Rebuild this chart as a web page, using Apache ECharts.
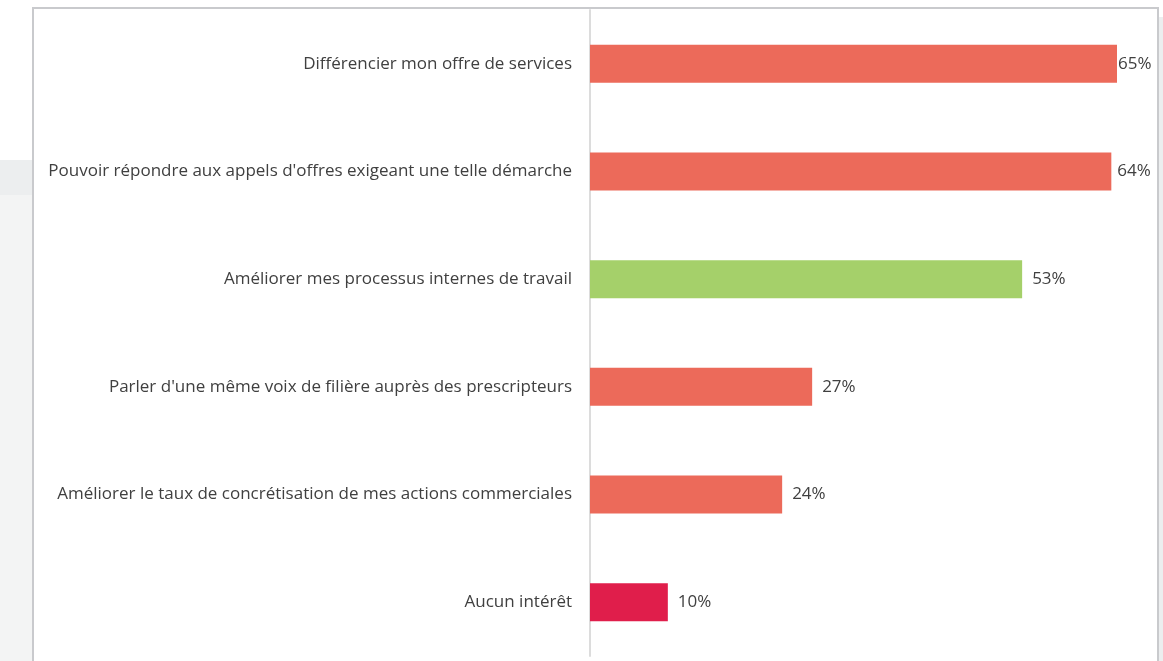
<!DOCTYPE html>
<html>
<head>
<meta charset="utf-8">
<script src="https://cdn.jsdelivr.net/npm/echarts@6/dist/echarts.min.js"></script>
<style>
  html, body { margin: 0; padding: 0; background: #fff; overflow: hidden; }
  .side-left { position: absolute; left: 0; top: 160px; width: 32px; height: 501px; background: #f3f4f4; }
  .side-left-band { position: absolute; left: 0; top: 160px; width: 32px; height: 35px; background: #eceeef; }
  .side-right { position: absolute; left: 1159px; top: 17px; width: 4px; height: 644px; background: #eceeef; }
  .frame { position: absolute; left: 32px; top: 7px; width: 1123px; height: 700px;
           border: 2px solid #c9cacd; border-bottom: none; background: #fff; }
  #chart { position: absolute; left: 0; top: 0; width: 1163px; height: 661px; }
</style>
</head>
<body>
<div class="side-left"></div>
<div class="side-left-band"></div>
<div class="side-right"></div>
<div class="frame"></div>
<div id="chart"></div>
<script>
  // données (de haut en bas)
  var categories = [
    'Différencier mon offre de services',
    "Pouvoir répondre aux appels d'offres exigeant une telle démarche",
    'Améliorer mes processus internes de travail',
    "Parler d'une même voix de filière auprès des prescripteurs",
    'Améliorer le taux de concrétisation de mes actions commerciales',
    'Aucun intérêt'
  ];
  // longueurs des barres estimées (les étiquettes affichent la valeur arrondie)
  var values = [65, 64.3, 53.3, 27.4, 23.7, 9.6];
  var barColors = ['#ec6a5a', '#ec6a5a', '#a5d06a', '#ec6a5a', '#ec6a5a', '#e01e4b'];
  var labelGaps = [1, 6, 10, 10, 10, 10];

  var myChart = echarts.init(document.getElementById('chart'));
  myChart.setOption({
    animation: false,
    grid: {
      left: 590,
      right: 46,
      top: 10,
      bottom: 5
    },
    xAxis: {
      type: 'value',
      min: 0,
      max: 65,
      show: false
    },
    yAxis: {
      type: 'category',
      inverse: true,
      data: categories,
      axisLine: { show: true, lineStyle: { color: '#dcdcdc', width: 2 } },
      axisTick: { show: false },
      axisLabel: {
        margin: 18,
        color: '#404040',
        fontSize: 17,
        fontFamily: 'Open Sans'
      }
    },
    series: [
      {
        type: 'bar',
        barWidth: 38,
        data: values.map(function (v, i) {
          return {
            value: v,
            itemStyle: { color: barColors[i] },
            label: { distance: labelGaps[i] }
          };
        }),
        label: {
          show: true,
          position: 'right',
          color: '#404040',
          fontSize: 17,
          fontFamily: 'Open Sans',
          formatter: function (p) { return Math.round(p.value) + '%'; }
        }
      }
    ]
  });
</script>
</body>
</html>
